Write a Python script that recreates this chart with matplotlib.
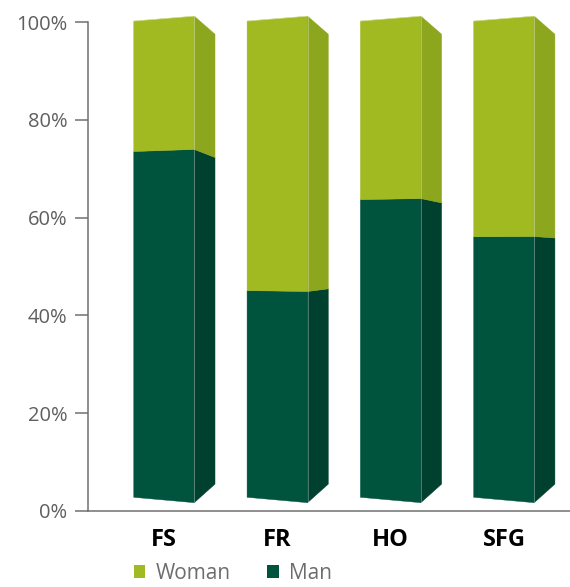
import matplotlib
matplotlib.use("Agg")
import matplotlib.pyplot as plt
from matplotlib.patches import Polygon, Patch

# ---- data ----
categories = ["FS", "FR", "HO", "SFG"]
man = [72.6, 43.4, 62.5, 54.7]
woman = [100 - m for m in man]
yticks = [0, 20, 40, 60, 80, 100]
ytick_labels = ["0%", "20%", "40%", "60%", "80%", "100%"]
series_names = ["Woman", "Man"]

# ---- styling ----
plt.rcParams['font.family'] = ['Open Sans', 'DejaVu Sans']
c_woman_front, c_woman_side = '#A1BA22', '#8CA61E'
c_man_front, c_man_side = '#00533D', '#00402E'
axis_col = '#707070'

fig = plt.figure(figsize=(5.7, 5.87), dpi=100)
ax = fig.add_axes([88/570, 76/587, (570-88)/570, 489/587])
ax.set_xlim(-0.671, 3.583)
ax.set_ylim(0, 100)

half_w = 0.267   # half width of front face (axis units)
depth = 0.183    # horizontal depth of the side face

# perspective mapping of a value onto the three vertical edges
def left_edge(v):
    return 2.8 + 0.974 * v

def right_edge(v):
    return 1.7 + 0.995 * v

def side_edge(v):
    return 5.5 + 0.92 * v

for i, (m, w) in enumerate(zip(man, woman)):
    segs = [(0, m, c_man_front, c_man_side), (m, m + w, c_woman_front, c_woman_side)]
    x0, x1 = i - half_w, i + half_w
    x2 = x1 + depth
    for a, b, cf, cs in segs:
        front = [(x0, left_edge(a)), (x1, right_edge(a)), (x1, right_edge(b)), (x0, left_edge(b))]
        side = [(x1, right_edge(a)), (x2, side_edge(a)), (x2, side_edge(b)), (x1, right_edge(b))]
        ax.add_patch(Polygon(front, closed=True, facecolor=cf, edgecolor=cf, lw=0.3, clip_on=False, zorder=3))
        ax.add_patch(Polygon(side, closed=True, facecolor=cs, edgecolor=cs, lw=0.3, clip_on=False, zorder=3))
    tot = m + w
    ax.plot([x1, x1], [right_edge(0), right_edge(tot)], color='white', alpha=0.35, lw=0.6, zorder=4, clip_on=False)
    ax.plot([x0, x1], [left_edge(tot), right_edge(tot)], color='white', alpha=0.4, lw=0.6, zorder=4, clip_on=False)

for s in ['top', 'right']:
    ax.spines[s].set_visible(False)
for s in ['left', 'bottom']:
    ax.spines[s].set_color(axis_col)
    ax.spines[s].set_linewidth(1.1)

ax.set_yticks(yticks)
ax.set_yticklabels(ytick_labels)
ax.tick_params(axis='y', length=9.4, width=1.1, color=axis_col, labelcolor='#5f5f5f',
               labelsize=14.5, pad=5.5)
ax.set_xticks(range(len(categories)))
ax.set_xticklabels(categories, fontweight='bold', fontsize=17, color='black')
ax.tick_params(axis='x', length=0, pad=12)

handles = [Patch(facecolor=c_woman_front, edgecolor='none'), Patch(facecolor=c_man_front, edgecolor='none')]
leg = fig.legend(handles, series_names, loc='lower left', bbox_to_anchor=(134/570, 3/587),
                 ncol=2, frameon=False, fontsize=15, handlelength=0.55, handleheight=0.55,
                 handletextpad=0.5, columnspacing=1.75, borderpad=0, borderaxespad=0)
for t in leg.get_texts():
    t.set_color('#6d6d6d')

fig.savefig('out.png', dpi=100)
